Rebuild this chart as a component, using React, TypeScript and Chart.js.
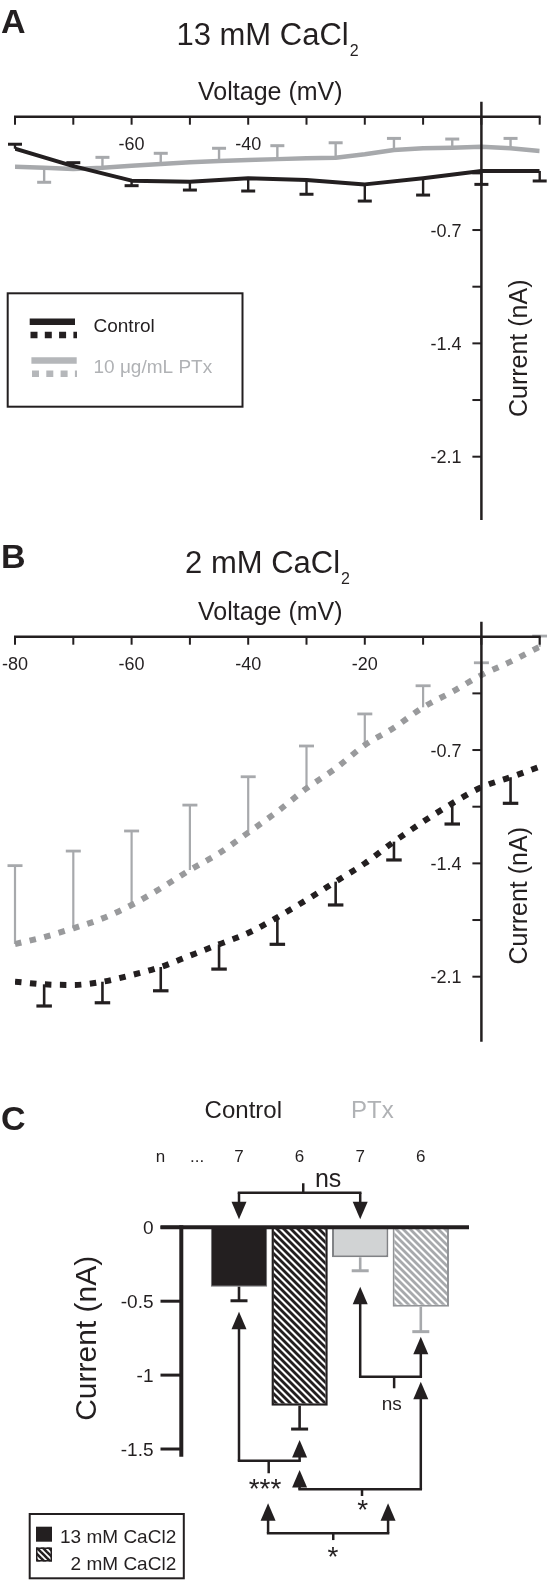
import React, { useEffect, useRef } from "react";
import { Chart, registerables } from "chart.js";

Chart.register(...registerables);

const FONT = '"Liberation Sans", Arial, Helvetica, sans-serif';
const INK = "#231f20";
const GREY = "#a7a9ac";
const GREY_DOT = "#999a9c";
const GREY_TXT = "#b0b2b5";

// ---------- shared IV axes ----------
const voltageTicks = [-80, -70, -60, -50, -40, -30, -20, -10, 0, 10];
const voltageLabelsA = ["", "", "-60", "", "-40", "", "", "", "", ""];
const voltageLabelsB = ["-80", "", "-60", "", "-40", "", "-20", "", "", ""];
const currentTicks = [-0.35, -0.7, -1.05, -1.4, -1.75, -2.1];
const currentTickLabels = ["", "-0.7", "", "-1.4", "", "-2.1"];

// ---------- Panel A : 13 mM CaCl2 ----------
const ctrlA_V = [-80, -70, -60, -50, -40, -30, -20, -10, 0, 10];
const ctrlA_I = [-0.198, -0.305, -0.395, -0.401, -0.38, -0.391, -0.418, -0.38, -0.335, -0.335];
const ctrlA_errEnd = [-0.17, -0.284, -0.426, -0.453, -0.459, -0.479, -0.521, -0.484, -0.418, -0.397];

const ptxA_V = [-80, -75, -70, -65, -60, -55, -50, -45, -40, -35, -30, -25, -20, -15, -10, -5, 0, 5, 10];
const ptxA_I = [-0.309, -0.315, -0.323, -0.315, -0.303, -0.292, -0.282, -0.274, -0.267, -0.262, -0.257, -0.253, -0.232, -0.206, -0.195, -0.191, -0.185, -0.195, -0.212];
const ptxA_errEnd = [null, -0.405, null, -0.251, null, -0.226, null, -0.195, null, -0.179, null, -0.161, null, -0.134, null, -0.138, null, -0.134, null];

// ---------- Panel B : 2 mM CaCl2 ----------
const ivB_V = [-80, -75, -70, -65, -60, -55, -50, -45, -40, -35, -30, -25, -20, -15, -10, -5, 0, 5, 10];
const ctrlB_I = [-2.131, -2.147, -2.151, -2.131, -2.09, -2.04, -1.97, -1.9, -1.83, -1.733, -1.626, -1.513, -1.4, -1.266, -1.143, -1.029, -0.93, -0.868, -0.803];
const ctrlB_errEnd = [null, -2.281, null, -2.261, null, -2.187, null, -2.053, null, -1.9, null, -1.657, null, -1.379, null, -1.157, null, -1.029, null];
const ptxB_I = [-1.898, -1.855, -1.801, -1.74, -1.657, -1.554, -1.441, -1.338, -1.21, -1.08, -0.937, -0.813, -0.669, -0.562, -0.436, -0.34, -0.237, -0.154, -0.062];
const ptxB_errEnd = [-1.414, null, -1.324, null, -1.2, null, -1.04, null, -0.865, null, -0.675, null, -0.477, null, -0.303, null, -0.161, null, 0.004];

// ---------- Panel C : peak current bars ----------
const barCategories = ["Control 13 mM", "Control 2 mM", "PTx 13 mM", "PTx 2 mM"];
const barCurrent = [-0.402, -1.207, -0.203, -0.537];
const barErrEnd = [-0.497, -1.365, -0.294, -0.706];
const barN = ["7", "6", "7", "6"];
const barTicks = [0, -0.5, -1, -1.5];
const barTickLabels = ["0", "-0.5", "-1", "-1.5"];

// significance brackets (x in category index units, y in nA)
const brackets = [
  { a: 0, b: 2, tipA: 0.054, tipB: 0.054, lineAt: 0.234, stemX: 1.06, stemTo: 0.298, text: "ns", textX: 1.47, textY: 0.32, size: 25 },
  { a: 0, b: 1, tipA: -0.571, tipB: -1.439, lineAt: -1.579, stemX: 0.49, stemTo: -1.664, text: "***", textX: 0.43, textY: -1.735, size: 28 },
  { a: 2, b: 3, tipA: -0.402, tipB: -0.74, lineAt: -1.011, stemX: 2.56, stemTo: -1.089, text: "ns", textX: 2.52, textY: -1.202, size: 19 },
  { a: 1, b: 3, tipA: -1.642, tipB: -1.045, lineAt: -1.773, stemX: 2.03, stemTo: -1.818, text: "*", textX: 2.04, textY: -1.879, size: 28 },
  { a: 0.48, b: 2.46, tipA: -1.867, tipB: -1.867, lineAt: -2.07, stemX: 1.555, stemTo: -2.116, text: "*", textX: 1.55, textY: -2.195, size: 28 },
];

function glyphText(ctx: any, text: string, x: number, cy: number, font: string, color: string, align: string) {
  ctx.font = font;
  ctx.fillStyle = color;
  ctx.textAlign = align;
  ctx.textBaseline = "alphabetic";
  const m = ctx.measureText(text);
  ctx.fillText(text, x, cy + (m.actualBoundingBoxAscent - m.actualBoundingBoxDescent) / 2);
}

function seg(ctx: any, x1: number, y1: number, x2: number, y2: number) {
  ctx.beginPath();
  ctx.moveTo(x1, y1);
  ctx.lineTo(x2, y2);
  ctx.stroke();
}

function hatch(color: string, period: number, width: number) {
  const c = document.createElement("canvas");
  c.width = period;
  c.height = period;
  const g = c.getContext("2d")!;
  g.fillStyle = "#ffffff";
  g.fillRect(0, 0, period, period);
  g.strokeStyle = color;
  g.lineWidth = width;
  for (const k of [-period, 0, period]) {
    g.beginPath();
    g.moveTo(k - 2, -2);
    g.lineTo(k + period + 2, period + 2);
    g.stroke();
  }
  return g.createPattern(c, "repeat")!;
}

type Series = {
  V: number[];
  I: number[];
  errEnd: (number | null)[];
  color: string;
  errColor: string;
  width: number;
  dash: number[];
  capW: number;
  errW: number;
};

type Panel = {
  letter: string;
  letterBase: number;
  title: string;
  titleSub: string;
  titleBase: number;
  xLabels: string[];
  yTitleCY: number;
  yMin: number;
  yMax: number;
  padTop: number;
  padBottom: number;
  smooth: boolean;
  legend: boolean;
  series: Series[];
};

function ivPlugin(p: Panel) {
  return {
    id: "iv" + p.letter,
    beforeDatasetsDraw(chart: any) {
      const { ctx, scales } = chart;
      const x = scales.x;
      const y = scales.y;
      p.series.forEach((s) => {
        ctx.save();
        ctx.strokeStyle = s.errColor;
        ctx.lineCap = "butt";
        s.V.forEach((v, i) => {
          const e = s.errEnd[i];
          if (e === null || e === undefined) return;
          const px = x.getPixelForValue(v);
          const p0 = y.getPixelForValue(s.I[i]);
          const p1 = y.getPixelForValue(e);
          ctx.lineWidth = s.errW;
          seg(ctx, px, p0, px, p1);
          ctx.lineWidth = s.errW + 0.6;
          seg(ctx, px - s.capW / 2, p1, px + s.capW / 2, p1);
        });
        ctx.restore();
      });
    },
    afterDatasetsDraw(chart: any) {
      const { ctx, scales } = chart;
      const x = scales.x;
      const y = scales.y;
      const y0 = y.getPixelForValue(0);
      const x0 = x.getPixelForValue(0);
      const xL = x.getPixelForValue(voltageTicks[0]);
      const xR = x.getPixelForValue(voltageTicks[voltageTicks.length - 1]);
      ctx.save();
      ctx.strokeStyle = INK;
      ctx.lineCap = "butt";
      ctx.lineWidth = 2.5;
      seg(ctx, xL - 1, y0, xR + 1, y0);
      seg(ctx, x0, y.getPixelForValue(p.yMax), x0, y.getPixelForValue(p.yMin));
      ctx.lineWidth = 2;
      voltageTicks.forEach((v) => {
        const px = x.getPixelForValue(v);
        seg(ctx, px, y0, px, y0 + 8);
      });
      currentTicks.forEach((c) => {
        const py = y.getPixelForValue(c);
        seg(ctx, x0 - 9, py, x0, py);
      });
      voltageTicks.forEach((v, i) => {
        if (!p.xLabels[i]) return;
        const px = Math.max(x.getPixelForValue(v), 13);
        glyphText(ctx, p.xLabels[i], px, y0 + 27, `18px ${FONT}`, INK, "center");
      });
      currentTicks.forEach((c, i) => {
        if (currentTickLabels[i]) glyphText(ctx, currentTickLabels[i], x0 - 20, y.getPixelForValue(c), `18px ${FONT}`, INK, "right");
      });
      // axis titles
      ctx.font = `25px ${FONT}`;
      ctx.fillStyle = INK;
      ctx.textAlign = "center";
      ctx.textBaseline = "alphabetic";
      ctx.fillText("Voltage (mV)", 270.3, y0 - 17);
      ctx.save();
      ctx.translate(519.8, p.yTitleCY);
      ctx.rotate(-Math.PI / 2);
      glyphText(ctx, "Current (nA)", 0, 0, `25px ${FONT}`, INK, "center");
      ctx.restore();
      // panel letter
      ctx.font = `bold 34px ${FONT}`;
      ctx.fillStyle = INK;
      ctx.textAlign = "left";
      ctx.fillText(p.letter, 1, p.letterBase);
      // title with subscript
      const mainF = `31px ${FONT}`;
      const subF = `16px ${FONT}`;
      ctx.font = mainF;
      const w1 = ctx.measureText(p.title).width;
      ctx.font = subF;
      const w2 = ctx.measureText(p.titleSub).width;
      const sx = 267 - (w1 + w2) / 2;
      ctx.font = mainF;
      ctx.fillText(p.title, sx, p.titleBase);
      ctx.font = subF;
      ctx.fillText(p.titleSub, sx + w1 + 1, p.titleBase + 11);

      if (p.legend) {
        ctx.lineWidth = 2;
        ctx.strokeStyle = INK;
        ctx.strokeRect(7.7, 293.3, 234.8, 113.4);
        ctx.lineWidth = 6.5;
        ctx.strokeStyle = INK;
        seg(ctx, 29.7, 321.7, 75, 321.7);
        ctx.setLineDash([7, 7.3]);
        seg(ctx, 30.5, 335, 77, 335);
        ctx.setLineDash([]);
        ctx.strokeStyle = "#b5b7ba";
        seg(ctx, 31.4, 360.5, 76.7, 360.5);
        ctx.setLineDash([7, 7.3]);
        seg(ctx, 32, 373.8, 77, 373.8);
        ctx.setLineDash([]);
        ctx.font = `19px ${FONT}`;
        ctx.textAlign = "left";
        ctx.fillStyle = INK;
        ctx.fillText("Control", 93.5, 331.7);
        ctx.fillStyle = GREY_TXT;
        ctx.fillText("10 μg/mL PTx", 93.5, 373.3);
      }
      ctx.restore();
    },
  };
}

function makeIV(canvas: HTMLCanvasElement, p: Panel) {
  return new Chart(canvas, {
    type: "line",
    data: {
      datasets: p.series.map((s, k) => ({
        label: k === 0 ? "Control" : "10 μg/mL PTx",
        data: s.V.map((v, i) => ({ x: v, y: s.I[i] })),
        borderColor: s.color,
        borderWidth: s.width,
        borderDash: s.dash,
        borderCapStyle: "butt",
        borderJoinStyle: "round",
        pointRadius: 0,
        fill: false,
        tension: p.smooth ? 0.4 : 0,
        cubicInterpolationMode: p.smooth ? "monotone" : "default",
      })),
    },
    options: {
      responsive: false,
      animation: false,
      devicePixelRatio: 1,
      events: [],
      layout: { padding: { left: 15, right: 7.3, top: p.padTop, bottom: p.padBottom } },
      scales: {
        x: { type: "linear", min: -80, max: 10, display: false },
        y: { type: "linear", min: p.yMin, max: p.yMax, display: false },
      },
      plugins: { legend: { display: false }, tooltip: { enabled: false }, title: { display: false } },
    } as any,
    plugins: [ivPlugin(p) as any],
  });
}

function barPlugin(patterns: any) {
  return {
    id: "bars",
    afterDatasetsDraw(chart: any) {
      const { ctx, scales } = chart;
      const x = scales.x;
      const y = scales.y;
      const y0 = y.getPixelForValue(0);
      const axisX = 181.3;
      ctx.save();
      ctx.lineCap = "butt";
      // error bars
      barCurrent.forEach((v, i) => {
        const px = x.getPixelForValue(i);
        ctx.strokeStyle = i < 2 ? INK : GREY;
        ctx.lineWidth = 2.6;
        seg(ctx, px, y.getPixelForValue(v), px, y.getPixelForValue(barErrEnd[i]));
        ctx.lineWidth = 3;
        seg(ctx, px - 8.5, y.getPixelForValue(barErrEnd[i]), px + 8.5, y.getPixelForValue(barErrEnd[i]));
      });
      // zero line and y axis
      ctx.strokeStyle = INK;
      ctx.lineWidth = 4;
      seg(ctx, 160.5, y0, 469, y0);
      seg(ctx, axisX, y0 - 2, axisX, y.getPixelForValue(y.min));
      ctx.lineWidth = 3;
      barTicks.forEach((t, i) => {
        const py = y.getPixelForValue(t);
        seg(ctx, 160.5, py, axisX, py);
        glyphText(ctx, barTickLabels[i], 153.5, py, `19px ${FONT}`, INK, "right");
      });
      // y title
      ctx.save();
      ctx.translate(88, 253.3);
      ctx.rotate(-Math.PI / 2);
      glyphText(ctx, "Current (nA)", 0, 0, `30px ${FONT}`, INK, "center");
      ctx.restore();
      // letter
      ctx.font = `bold 34px ${FONT}`;
      ctx.fillStyle = INK;
      ctx.textAlign = "left";
      ctx.textBaseline = "alphabetic";
      ctx.fillText("C", 1, 45);
      // group labels
      ctx.font = `24px ${FONT}`;
      ctx.textAlign = "center";
      ctx.fillStyle = INK;
      ctx.fillText("Control", 243.3, 33.3);
      ctx.fillStyle = GREY_TXT;
      ctx.fillText("PTx", 372.4, 33.3);
      // n row
      ctx.font = `17px ${FONT}`;
      ctx.fillStyle = INK;
      ctx.fillText("n", 160.5, 76.7);
      ctx.fillText("...", 197.1, 76.7);
      barN.forEach((n, i) => ctx.fillText(n, x.getPixelForValue(i), 76.7));
      // brackets
      ctx.strokeStyle = INK;
      ctx.fillStyle = INK;
      ctx.lineWidth = 2.5;
      const arrow = (xv: number, tipV: number, fromPy: number) => {
        const px = x.getPixelForValue(xv);
        const tip = y.getPixelForValue(tipV);
        const dir = tip < fromPy ? -1 : 1;
        const hl = 17.5;
        const hw = 7.5;
        seg(ctx, px, fromPy, px, tip - dir * hl * 0.6);
        ctx.beginPath();
        ctx.moveTo(px, tip);
        ctx.lineTo(px - hw, tip - dir * hl);
        ctx.lineTo(px + hw, tip - dir * hl);
        ctx.closePath();
        ctx.fill();
      };
      brackets.forEach((b) => {
        const ly = y.getPixelForValue(b.lineAt);
        const xa = x.getPixelForValue(b.a);
        const xb = x.getPixelForValue(b.b);
        ctx.lineCap = "square";
        seg(ctx, xa, ly, xb, ly);
        ctx.lineCap = "butt";
        arrow(b.a, b.tipA, ly);
        arrow(b.b, b.tipB, ly);
        const sx = x.getPixelForValue(b.stemX);
        seg(ctx, sx, ly, sx, y.getPixelForValue(b.stemTo));
        glyphText(ctx, b.text, x.getPixelForValue(b.textX), y.getPixelForValue(b.textY), `${b.size}px ${FONT}`, INK, "center");
      });
      // legend
      ctx.lineWidth = 2;
      ctx.strokeStyle = INK;
      ctx.strokeRect(29.7, 429, 154.1, 64.3);
      ctx.fillStyle = INK;
      ctx.fillRect(36, 441.7, 16, 15);
      ctx.fillStyle = patterns.legend;
      ctx.fillRect(36, 462.5, 16, 14);
      ctx.lineWidth = 1.5;
      ctx.strokeRect(36.75, 463.25, 14.5, 12.5);
      ctx.font = `19px ${FONT}`;
      ctx.fillStyle = INK;
      ctx.textAlign = "right";
      ctx.fillText("13 mM CaCl2", 176.2, 458.3);
      ctx.fillText("2 mM CaCl2", 176.2, 485);
      ctx.restore();
    },
  };
}

function makeBars(canvas: HTMLCanvasElement) {
  const patterns = {
    black: hatch(INK, 7, 2.8),
    grey: hatch(GREY, 7, 2.8),
    legend: hatch(INK, 6, 2.6),
  };
  return new Chart(canvas, {
    type: "bar",
    data: {
      labels: barCategories,
      datasets: [
        {
          label: "Peak current",
          data: barCurrent,
          backgroundColor: [INK, patterns.black, "#d1d3d4", patterns.grey],
          borderColor: ["#6d6e71", INK, "#808285", "#939598"],
          borderWidth: [1, 2.5, 2, 2],
          borderSkipped: "start",
          barPercentage: 0.93,
          categoryPercentage: 1,
        },
      ],
    },
    options: {
      responsive: false,
      animation: false,
      devicePixelRatio: 1,
      events: [],
      layout: { padding: { left: 208.7, right: 95.9, top: 142.3, bottom: 124.3 } },
      scales: {
        x: { type: "category", display: false, offset: true },
        y: { type: "linear", min: -1.552, max: 0, display: false },
      },
      plugins: { legend: { display: false }, tooltip: { enabled: false } },
    } as any,
    plugins: [barPlugin(patterns) as any],
  });
}

const panelA: Panel = {
  letter: "A",
  letterBase: 33.3,
  title: "13 mM CaCl",
  titleSub: "2",
  titleBase: 45,
  xLabels: voltageLabelsA,
  yTitleCY: 348.3,
  yMin: -2.491,
  yMax: 0.0927,
  padTop: 101.7,
  padBottom: 5,
  smooth: false,
  legend: true,
  series: [
    { V: ctrlA_V, I: ctrlA_I, errEnd: ctrlA_errEnd, color: INK, errColor: INK, width: 4, dash: [], capW: 14, errW: 2.4 },
    { V: ptxA_V, I: ptxA_I, errEnd: ptxA_errEnd, color: GREY, errColor: GREY, width: 4.5, dash: [], capW: 14, errW: 2.4 },
  ],
};

const panelB: Panel = {
  letter: "B",
  letterBase: 43.3,
  title: "2 mM CaCl",
  titleSub: "2",
  titleBase: 48.3,
  xLabels: voltageLabelsB,
  yTitleCY: 370.8,
  yMin: -2.5015,
  yMax: 0.0927,
  padTop: 96.7,
  padBottom: 43.3,
  smooth: true,
  legend: false,
  series: [
    { V: ivB_V, I: ctrlB_I, errEnd: ctrlB_errEnd, color: INK, errColor: INK, width: 6, dash: [6.5, 8.5], capW: 15.5, errW: 2.6 },
    { V: ivB_V, I: ptxB_I, errEnd: ptxB_errEnd, color: GREY_DOT, errColor: GREY, width: 6, dash: [6.5, 8.5], capW: 15, errW: 2.2 },
  ],
};

export default function App() {
  const refA = useRef<HTMLCanvasElement>(null);
  const refB = useRef<HTMLCanvasElement>(null);
  const refC = useRef<HTMLCanvasElement>(null);

  useEffect(() => {
    const charts: Chart[] = [];
    if (refA.current) charts.push(makeIV(refA.current, panelA));
    if (refB.current) charts.push(makeIV(refB.current, panelB));
    if (refC.current) charts.push(makeBars(refC.current));
    return () => charts.forEach((c) => c.destroy());
  }, []);

  return (
    <div style={{ position: "absolute", left: 0, top: 0, width: 547, height: 1581, background: "#ffffff", overflow: "hidden" }}>
      <canvas ref={refA} width={547} height={525} style={{ position: "absolute", left: 0, top: 0 }} />
      <canvas ref={refB} width={547} height={560} style={{ position: "absolute", left: 0, top: 525 }} />
      <canvas ref={refC} width={547} height={496} style={{ position: "absolute", left: 0, top: 1085 }} />
    </div>
  );
}
